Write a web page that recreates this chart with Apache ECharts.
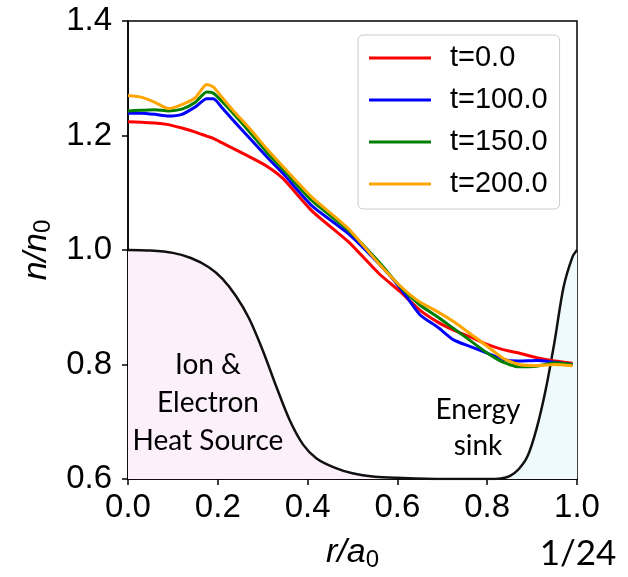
<!DOCTYPE html>
<html>
<head>
<meta charset="utf-8">
<title>n/n0 profile</title>
<script src="https://cdn.jsdelivr.net/npm/echarts@6/dist/echarts.min.js"></script>
<style>
  html, body { margin: 0; padding: 0; background: #fff; }
  #chart { width: 628px; height: 577px; }
</style>
</head>
<body>
<div id="chart"></div>
<script>
// radial positions shared by the four density profiles
const rGrid = [0, 0.03, 0.06, 0.09, 0.12, 0.15, 0.175, 0.19, 0.21, 0.235, 0.27, 0.31, 0.345,
  0.41, 0.49, 0.56, 0.605, 0.65, 0.69, 0.725, 0.76, 0.80, 0.835, 0.87, 0.91, 0.95, 0.99];

const nT0 = [1.224, 1.223, 1.222, 1.219, 1.213, 1.206, 1.199, 1.195, 1.187, 1.177, 1.163, 1.146, 1.125,
  1.068, 1.015, 0.958, 0.928, 0.895, 0.874, 0.860, 0.849, 0.835, 0.826, 0.820, 0.812, 0.806, 0.802];
const nT100 = [1.239, 1.239, 1.237, 1.234, 1.237, 1.250, 1.264, 1.264, 1.248, 1.226, 1.196, 1.162, 1.134,
  1.077, 1.029, 0.975, 0.935, 0.887, 0.865, 0.843, 0.832, 0.820, 0.809, 0.806, 0.807, 0.804, 0.800];
const nT150 = [1.243, 1.244, 1.245, 1.243, 1.246, 1.258, 1.276, 1.274, 1.259, 1.238, 1.207, 1.170, 1.141,
  1.086, 1.035, 0.978, 0.937, 0.904, 0.883, 0.863, 0.843, 0.820, 0.804, 0.796, 0.797, 0.803, 0.800];
const nT200 = [1.270, 1.267, 1.258, 1.247, 1.254, 1.266, 1.289, 1.285, 1.266, 1.243, 1.213, 1.176, 1.146,
  1.092, 1.038, 0.975, 0.938, 0.909, 0.892, 0.875, 0.855, 0.832, 0.811, 0.800, 0.798, 0.800, 0.798];

const seriesNames = ['t=0.0', 't=100.0', 't=150.0', 't=200.0'];
const seriesColors = ['#ff0000', '#0000ff', '#008000', '#ffa500'];

// heat source profile (pink) and energy sink profile (light blue)
const sourceR = [0, 0.05, 0.10, 0.14, 0.18, 0.21, 0.24, 0.27, 0.30, 0.33, 0.36, 0.39, 0.42,
  0.46, 0.50, 0.55, 0.60, 0.70, 0.80];
const sourceN = [1.000, 0.999, 0.995, 0.986, 0.970, 0.950, 0.920, 0.880, 0.825, 0.762, 0.703, 0.660, 0.636,
  0.620, 0.610, 0.604, 0.602, 0.600, 0.600];
const sinkR = [0.80, 0.83, 0.85, 0.87, 0.89, 0.91, 0.93, 0.95, 0.97, 0.99, 1.0];
const sinkN = [0.600, 0.601, 0.605, 0.617, 0.640, 0.688, 0.755, 0.840, 0.935, 0.988, 1.0];

const xTicks = { min: 0, max: 1.0, interval: 0.2 };
const yTicks = { min: 0.6, max: 1.4, interval: 0.2 };

const zip = (xs, ys) => xs.map((x, i) => [x, ys[i]]);

const chart = echarts.init(document.getElementById('chart'));

const profiles = [nT0, nT100, nT150, nT200].map((vals, i) => ({
  name: seriesNames[i],
  type: 'line',
  data: zip(rGrid, vals),
  showSymbol: false,
  smooth: 0.2,
  z: 5 + i,
  lineStyle: { color: seriesColors[i], width: 3 },
  itemStyle: { color: seriesColors[i] }
}));

const axisName = {
  rich: {
    i: { fontFamily: 'Liberation Sans', fontStyle: 'italic', fontSize: 34, color: '#000' },
    s: { fontFamily: 'Liberation Sans', fontSize: 24, color: '#000', padding: [14, 0, 0, 0] }
  }
};

const option = {
  animation: false,
  backgroundColor: '#fff',
  grid: {
    left: 128, top: 21, right: 51, bottom: 93,
    show: true, borderColor: '#000', borderWidth: 1.5, backgroundColor: 'transparent'
  },
  legend: {
    data: seriesNames,
    orient: 'vertical',
    left: 358, top: 35,
    padding: [8, 12, 10, 11],
    backgroundColor: '#fff',
    borderColor: '#cccccc',
    borderWidth: 1,
    borderRadius: 5,
    icon: 'rect',
    itemWidth: 62,
    itemHeight: 3,
    itemGap: 12,
    textStyle: {
      fontFamily: 'Liberation Sans', fontSize: 29, color: '#000',
      lineHeight: 30, padding: [0, 0, 0, 14]
    }
  },
  xAxis: {
    type: 'value',
    min: xTicks.min, max: xTicks.max, interval: xTicks.interval,
    name: '{i|r/a}{s|0}',
    nameLocation: 'middle',
    nameGap: 55,
    nameTextStyle: axisName,
    axisLine: { lineStyle: { color: '#000', width: 1.5 } },
    axisTick: { show: true, length: 6, lineStyle: { color: '#000', width: 1.5 } },
    axisLabel: {
      fontFamily: 'Liberation Sans', fontSize: 33, color: '#000', margin: 12,
      formatter: v => v.toFixed(1)
    },
    splitLine: { show: false }
  },
  yAxis: {
    type: 'value',
    min: yTicks.min, max: yTicks.max, interval: yTicks.interval,
    name: '{i|n/n}{s|0}',
    nameLocation: 'middle',
    nameGap: 68,
    nameTextStyle: axisName,
    axisLine: { lineStyle: { color: '#000', width: 1.5 } },
    axisTick: { show: true, length: 6, lineStyle: { color: '#000', width: 1.5 } },
    axisLabel: {
      fontFamily: 'Liberation Sans', fontSize: 33, color: '#000', margin: 16,
      formatter: v => v.toFixed(1)
    },
    splitLine: { show: false }
  },
  graphic: [
    {
      type: 'text', z: 20,
      style: {
        text: 'Ion &\nElectron\nHeat Source',
        x: 208, y: 346,
        align: 'center', verticalAlign: 'top',
        fontFamily: 'Lato', fontSize: 28, lineHeight: 38, fill: '#000'
      }
    },
    {
      type: 'text', z: 20,
      style: {
        text: 'Energy\nsink',
        x: 478, y: 392,
        align: 'center', verticalAlign: 'top',
        fontFamily: 'Lato', fontSize: 28, lineHeight: 36, fill: '#000'
      }
    },
    {
      type: 'text', z: 20,
      style: {
        text: '1/24',
        x: 578, y: 536,
        align: 'center', verticalAlign: 'top',
        fontFamily: 'Lato', fontSize: 35, fill: '#000'
      }
    }
  ],
  series: [
    {
      name: 'source',
      type: 'line',
      data: zip(sourceR, sourceN),
      showSymbol: false,
      smooth: 0.3,
      z: 2,
      lineStyle: { color: '#111', width: 2.5 },
      areaStyle: { color: '#fcf0fb', opacity: 1, origin: 'start' }
    },
    {
      name: 'sink',
      type: 'line',
      data: zip(sinkR, sinkN),
      showSymbol: false,
      smooth: 0.3,
      z: 2,
      lineStyle: { color: '#111', width: 2.5 },
      areaStyle: { color: '#eefafc', opacity: 1, origin: 'start' }
    }
  ].concat(profiles)
};

chart.setOption(option);
</script>
</body>
</html>
